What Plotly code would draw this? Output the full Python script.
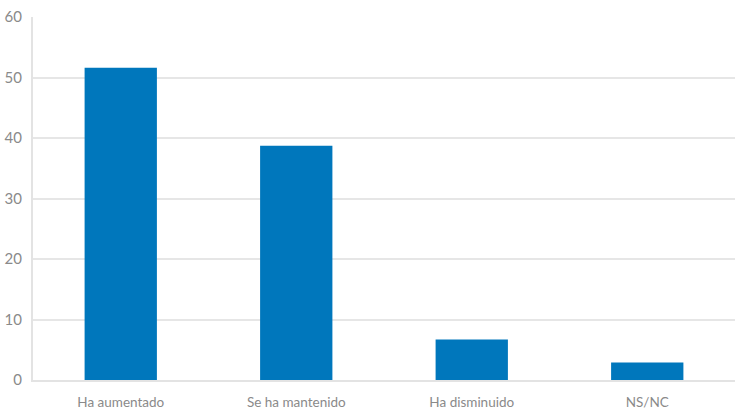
import plotly.graph_objects as go

categories = ["Ha aumentado", "Se ha mantenido", "Ha disminuido", "NS/NC"]
values = [51.6, 38.7, 6.7, 2.9]
y_ticks = [0, 10, 20, 30, 40, 50, 60]

fig = go.Figure(go.Bar(x=categories, y=values, marker=dict(color="#0077BC", line=dict(width=0)),
                       hoverinfo="x+y"))
fig.update_layout(
    width=735, height=409,
    margin=dict(l=33, r=0, t=17, b=29, autoexpand=False),
    plot_bgcolor="white", paper_bgcolor="white",
    bargap=0.588,
    showlegend=False,
    font=dict(family="Lato, Open Sans, sans-serif", size=14, color="#8a8a8a"),
)
fig.update_xaxes(showgrid=False, showline=True, linecolor="#e3e3e3", linewidth=2,
                 ticks="", ticklabelstandoff=9, tickfont=dict(size=13.5, color="#8a8a8a"))
fig.update_yaxes(range=[0, 60], tickvals=y_ticks, showgrid=True, gridcolor="#e6e6e6", gridwidth=2,
                 showline=True, linecolor="#e3e3e3", linewidth=2, zeroline=False,
                 ticks="", ticklabelstandoff=6, tickfont=dict(size=15, color="#8a8a8a"))
fig.write_html("out.html")
